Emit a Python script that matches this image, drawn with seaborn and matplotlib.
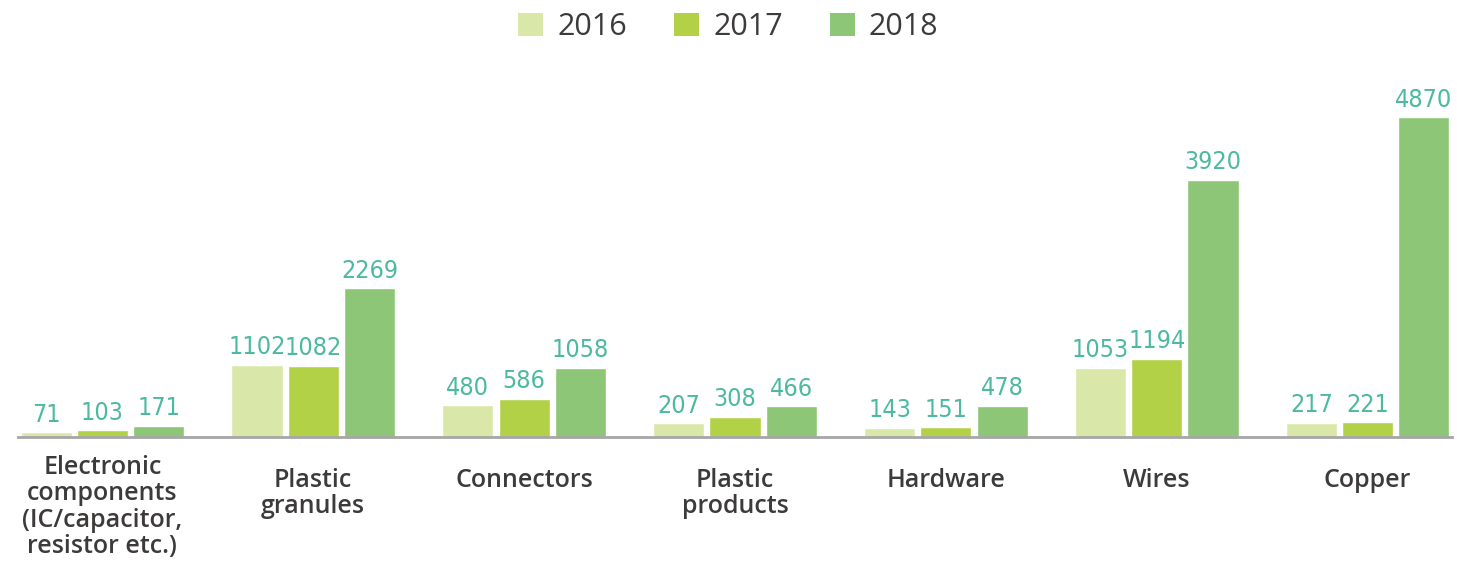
import matplotlib
matplotlib.use("Agg")
import matplotlib.pyplot as plt
import matplotlib.transforms as mtrans
from matplotlib import font_manager as fm
import seaborn as sns
import pandas as pd
import os
from matplotlib.patches import Patch

categories = ["Electronic\ncomponents\n(IC/capacitor,\nresistor etc.)", "Plastic\ngranules",
              "Connectors", "Plastic\nproducts", "Hardware", "Wires", "Copper"]
years = ["2016", "2017", "2018"]
v2016 = [71, 1102, 480, 207, 143, 1053, 217]
v2017 = [103, 1082, 586, 308, 151, 1194, 221]
v2018 = [171, 2269, 1058, 466, 478, 3920, 4870]
colors = ["#d9e8a8", "#b3d147", "#8cc676"]

rows = []
for y, vals in zip(years, [v2016, v2017, v2018]):
    for c, v in zip(categories, vals):
        rows.append({"cat": c, "year": y, "value": v})
df = pd.DataFrame(rows)

sns.set_theme(style="white")
plt.rcParams['font.family'] = ['Open Sans', 'DejaVu Sans']

# pick a static condensed face if one is installed
cond_prop = None
for f in fm.fontManager.ttflist:
    base = os.path.basename(f.fname)
    if ("Condensed" in base or "Narrow" in base) and "[" not in base \
            and "Italic" not in base and "Bold" not in base and "Light" not in base \
            and "Thin" not in base and "Black" not in base and "Medium" not in base \
            and "Semi" not in base and "Extra" not in base and f.style == "normal":
        cond_prop = fm.FontProperties(fname=f.fname)
        break

W, H = 1457, 575
fig = plt.figure(figsize=(W / 100, H / 100), dpi=100)
ax = fig.add_axes([18 / W, (H - 437) / H, 1434 / W, 361 / H])

sns.barplot(data=df, x="cat", y="value", hue="year", palette=colors, order=categories,
            hue_order=years, width=0.8, gap=0.09, ax=ax, legend=False, saturation=1)

for cont in ax.containers:
    labels = [f"{int(b.get_height())}" for b in cont]
    texts = ax.bar_label(cont, labels=labels, padding=4, color="#4cb9a0")
    for t in texts:
        if cond_prop is not None:
            t.set_fontproperties(cond_prop)
            t.set_fontsize(18)
        else:
            t.set_family(["Roboto", "DejaVu Sans"])
            t.set_fontsize(17.5)

ax.set_xlim(-0.4, 6.4)
ax.set_ylim(0, 5500)
ax.set_xlabel("")
ax.set_ylabel("")
ax.set_yticks([])
for s in ["top", "left", "right"]:
    ax.spines[s].set_visible(False)
ax.spines["bottom"].set_color("#a6a6a6")
ax.spines["bottom"].set_linewidth(2)
ax.tick_params(axis="x", length=0, pad=22)
for i, lbl in enumerate(ax.get_xticklabels()):
    lbl.set_fontsize(18)
    lbl.set_color("#3d3a3a")
    lbl.set_fontweight("semibold")
    lbl.set_linespacing(1.08)
    if i == 0:
        lbl.set_transform(lbl.get_transform() + mtrans.ScaledTranslation(0, 13 / 100, fig.dpi_scale_trans))

handles = [Patch(facecolor=c, edgecolor="none") for c in colors]
fig.legend(handles, years, loc="center", bbox_to_anchor=(0.5, 1 - 27 / H), ncol=3, frameon=False,
           fontsize=22, labelcolor="#3d3a3a", handlelength=0.82, handleheight=0.82,
           handletextpad=0.45, columnspacing=1.55)

fig.savefig("out.png", dpi=100, facecolor="white")
